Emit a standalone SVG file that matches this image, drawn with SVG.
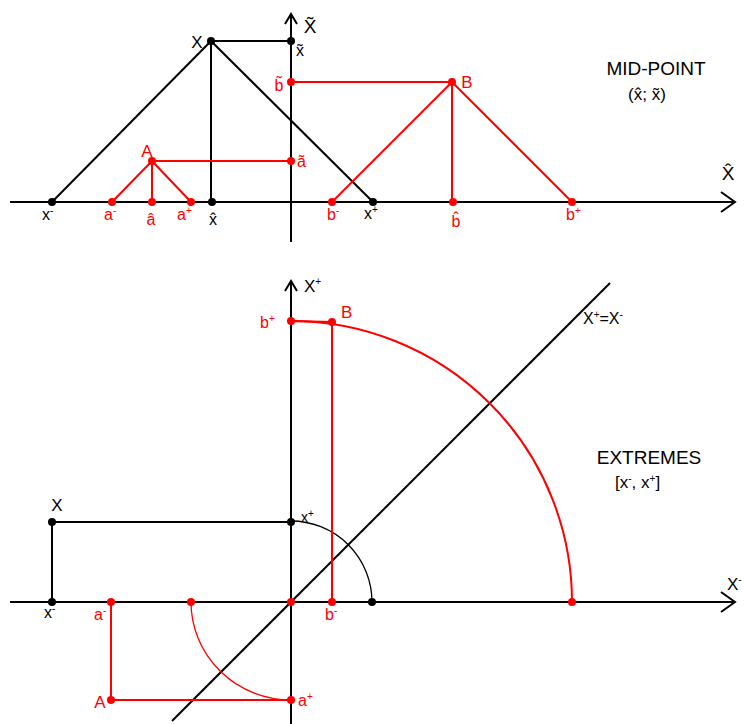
<svg xmlns="http://www.w3.org/2000/svg" width="744" height="724" viewBox="0 0 744 724">
<style>
text{font-family:"Liberation Sans",Arial,sans-serif;}
.k{fill:#000}
.r{fill:#ff0000}
.ax{stroke:#000;stroke-width:2;fill:none}
.bl{stroke:#000;stroke-width:2;fill:none}
.rl{stroke:#ff0000;stroke-width:2;fill:none}
.thin{stroke-width:1.3}
.sup{font-size:10px}
.big{font-size:19px}
.cap{font-size:17px}
.lo{font-size:16px}
.sm{font-size:14px}
.sub{font-size:17px}
.ttl{font-size:19px}
</style>
<rect width="744" height="724" fill="#fff"/>

<g id="connectors">
  <!-- top axes -->
  <line class="ax" x1="10" y1="202" x2="735" y2="202"/>
  <polyline class="ax" points="721,192 735,202 721,212"/>
  <line class="ax" x1="291" y1="242" x2="291" y2="14"/>
  <polyline class="ax" points="285,24 291,14 297,24"/>
  <!-- top black -->
  <line class="bl" x1="211" y1="41" x2="52" y2="202"/>
  <line class="bl" x1="211" y1="41" x2="373" y2="202"/>
  <line class="bl" x1="211" y1="41" x2="211" y2="202"/>
  <line class="bl" x1="211" y1="41" x2="291" y2="41"/>
  <!-- top red -->
  <line class="rl" x1="152" y1="161" x2="112" y2="202"/>
  <line class="rl" x1="152" y1="161" x2="191" y2="202"/>
  <line class="rl" x1="152" y1="161" x2="152" y2="202"/>
  <line class="rl" x1="152" y1="161" x2="291" y2="161"/>
  <line class="rl" x1="452" y1="82" x2="332" y2="202"/>
  <line class="rl" x1="452" y1="82" x2="572" y2="202"/>
  <line class="rl" x1="452" y1="82" x2="452" y2="202"/>
  <line class="rl" x1="452" y1="82" x2="291" y2="82"/>

  <!-- bottom axes -->
  <line class="ax" x1="10" y1="602" x2="735" y2="602"/>
  <polyline class="ax" points="721,592 735,602 721,612"/>
  <line class="ax" x1="291" y1="724" x2="291" y2="281"/>
  <polyline class="ax" points="285,291 291,281 297,291"/>
  <line class="bl" x1="172" y1="721" x2="610" y2="283"/>
  <!-- bottom black -->
  <line class="bl" x1="52" y1="522" x2="291" y2="522"/>
  <line class="bl" x1="52" y1="522" x2="52" y2="602"/>
  <path class="bl thin" d="M291,521 A81,81 0 0 1 372,602"/>
  <!-- bottom red -->
  <line class="rl" x1="291" y1="321" x2="332" y2="322"/>
  <line class="rl" x1="332" y1="322" x2="332" y2="602"/>
  <path class="rl" d="M291,321 A281,281 0 0 1 572,602"/>
  <line class="rl" x1="111" y1="602" x2="111" y2="700"/>
  <line class="rl" x1="111" y1="700" x2="291" y2="700"/>
  <path class="rl thin" d="M191,602 A100,98 0 0 0 291,700"/>
</g>

<!-- ===== MID-POINT panel ===== -->
<g id="axis-x-tilde"><text class="big k" x="310" y="33" text-anchor="middle">X̃</text></g>
<g id="axis-x-hat"><text class="big k" x="728" y="180" text-anchor="middle">X̂</text></g>
<g id="node-X-top"><circle class="k" cx="211" cy="41" r="4"/><text class="cap k" x="197" y="48" text-anchor="middle">X</text></g>
<g id="node-x-tilde"><circle class="k" cx="291" cy="41" r="4"/><text class="lo k" x="296" y="56">x̃</text></g>
<g id="node-x-minus-top"><circle class="k" cx="52" cy="202" r="4"/><text class="lo k" x="42" y="220">x<tspan class="sup" dy="-6">-</tspan></text></g>
<g id="node-x-hat"><circle class="k" cx="212" cy="202" r="4"/><text class="lo k" x="213" y="225" text-anchor="middle">x̂</text></g>
<g id="node-x-plus-top"><circle class="k" cx="373" cy="202" r="4"/><text class="lo k" x="364" y="219">x<tspan class="sup" dy="-6">+</tspan></text></g>

<g id="node-A-top"><circle class="r" cx="152" cy="161" r="4"/><text class="cap r" x="147" y="157" text-anchor="middle">A</text></g>
<g id="node-a-minus-top"><circle class="r" cx="112" cy="202" r="4"/><text class="lo r" x="104" y="220">a<tspan class="sup" dy="-6">-</tspan></text></g>
<g id="node-a-hat"><circle class="r" cx="152" cy="202" r="4"/><text class="lo r" x="151" y="225" text-anchor="middle">â</text></g>
<g id="node-a-plus-top"><circle class="r" cx="191" cy="202" r="4"/><text class="lo r" x="177" y="220">a<tspan class="sup" dy="-6">+</tspan></text></g>
<g id="node-a-tilde"><circle class="r" cx="291" cy="161" r="4"/><text class="lo r" x="297" y="167">ã</text></g>

<g id="node-B-top"><circle class="r" cx="452" cy="82" r="4"/><text class="cap r" x="467" y="88" text-anchor="middle">B</text></g>
<g id="node-b-tilde"><circle class="r" cx="291" cy="82" r="4"/><text class="lo r" x="279" y="91" text-anchor="middle">b̃</text></g>
<g id="node-b-minus-top"><circle class="r" cx="332" cy="202" r="4"/><text class="lo r" x="327" y="220">b<tspan class="sup" dy="-6">-</tspan></text></g>
<g id="node-b-hat"><circle class="r" cx="453" cy="202" r="4"/><text class="lo r" x="456" y="227" text-anchor="middle">b̂</text></g>
<g id="node-b-plus-top"><circle class="r" cx="572" cy="202" r="4"/><text class="lo r" x="566" y="220">b<tspan class="sup" dy="-6">+</tspan></text></g>

<g id="title-mid"><text class="ttl k" x="656" y="75" text-anchor="middle">MID-POINT</text><text class="sub k" x="647" y="100" text-anchor="middle">(x̂; x̃)</text></g>

<!-- ===== EXTREMES panel ===== -->
<g id="axis-x-plus"><text class="cap k" x="304" y="292">X<tspan class="sup" dy="-7">+</tspan></text></g>
<g id="axis-x-minus"><text class="cap k" x="727" y="590">X<tspan class="sup" dy="-7">-</tspan></text></g>
<g id="diag-label"><text class="lo k" x="583" y="324">X<tspan class="sup" dy="-6">+</tspan><tspan dy="6">=X</tspan><tspan class="sup" dy="-6">-</tspan></text></g>

<g id="node-X-bot"><circle class="k" cx="52" cy="522" r="4"/><text class="cap k" x="57" y="511" text-anchor="middle">X</text></g>
<g id="node-x-plus-bot"><circle class="k" cx="291" cy="522" r="4"/><text class="sm k" x="301" y="522">x<tspan class="sup" dy="-5">+</tspan></text></g>
<g id="node-x-minus-bot"><circle class="k" cx="52" cy="602" r="4"/><text class="lo k" x="44" y="618">x<tspan class="sup" dy="-6">-</tspan></text></g>
<g id="node-x-plus-proj"><circle class="k" cx="372" cy="602" r="4"/></g>

<g id="node-B-bot"><circle class="r" cx="332" cy="322" r="4"/><text class="cap r" x="341" y="318">B</text></g>
<g id="node-b-plus-bot"><circle class="r" cx="291" cy="321" r="4"/><text class="lo r" x="260" y="328">b<tspan class="sup" dy="-6">+</tspan></text></g>
<g id="node-b-minus-bot"><circle class="r" cx="332" cy="602" r="4"/><text class="lo r" x="325" y="620">b<tspan class="sup" dy="-6">-</tspan></text></g>
<g id="node-b-plus-proj"><circle class="r" cx="572" cy="602" r="4"/></g>
<g id="node-origin"><circle class="r" cx="291" cy="602" r="4"/></g>

<g id="node-A-bot"><circle class="r" cx="111" cy="700" r="4"/><text class="cap r" x="100" y="708" text-anchor="middle">A</text></g>
<g id="node-a-minus-bot"><circle class="r" cx="111" cy="602" r="4"/><text class="lo r" x="94" y="620">a<tspan class="sup" dy="-6">-</tspan></text></g>
<g id="node-a-minus-proj"><circle class="r" cx="191" cy="602" r="4"/></g>
<g id="node-a-plus-bot"><circle class="r" cx="291" cy="700" r="4"/><text class="lo r" x="298" y="706">a<tspan class="sup" dy="-6">+</tspan></text></g>

<g id="title-ext"><text class="ttl k" x="649" y="464" text-anchor="middle">EXTREMES</text><text class="sub k" x="615" y="488">[x<tspan class="sup" dy="-6">-</tspan><tspan dy="6">, x</tspan><tspan class="sup" dy="-6">+</tspan><tspan dy="6">]</tspan></text></g>
</svg>
